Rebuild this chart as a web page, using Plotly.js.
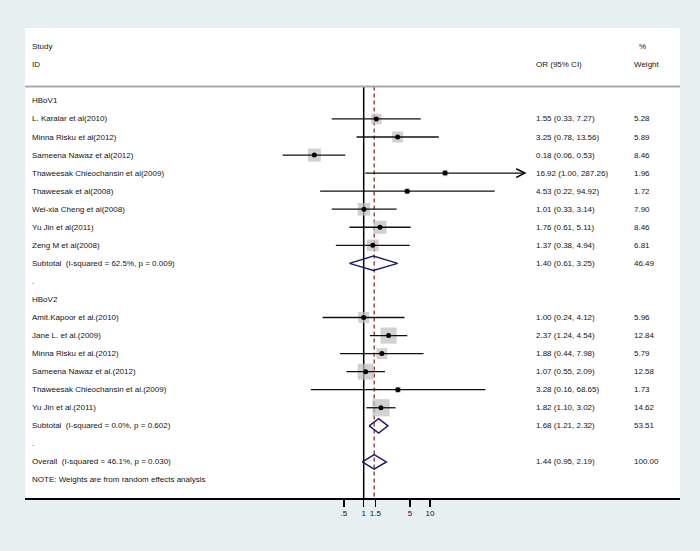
<!DOCTYPE html>
<html>
<head>
<meta charset="utf-8">
<script src="https://cdn.plot.ly/plotly-3.0.1.min.js"></script>
<style>
html,body{margin:0;padding:0;background:#e8eff1;}
#chart{width:700px;height:551px;}
</style>
</head>
<body>
<div id="chart"></div>
<script>
// ---------------- data ----------------
const group1Name = "HBoV1";
const group1Studies = ["L. Karalar et al(2010)", "Minna Risku et al(2012)", "Sameena Nawaz et al(2012)",
  "Thaweesak Chieochansin et al(2009)", "Thaweesak et al(2008)", "Wei-xia Cheng et al(2008)",
  "Yu Jin et al(2011)", "Zeng M et al(2008)"];
const group1OR = [1.55, 3.25, 0.18, 16.92, 4.53, 1.01, 1.76, 1.37];
const group1Lo = [0.33, 0.78, 0.06, 1.00, 0.22, 0.33, 0.61, 0.38];
const group1Hi = [7.27, 13.56, 0.53, 287.26, 94.92, 3.14, 5.11, 4.94];
const group1W  = [5.28, 5.89, 8.46, 1.96, 1.72, 7.90, 8.46, 6.81];
const group1Sub = {label: "Subtotal\u00a0\u00a0(I-squared = 62.5%, p = 0.009)", or: 1.40, lo: 0.61, hi: 3.25, w: 46.49};

const group2Name = "HBoV2";
const group2Studies = ["Amit.Kapoor et al.(2010)", "Jane L. et al.(2009)", "Minna Risku et al.(2012)",
  "Sameena Nawaz et al.(2012)", "Thaweesak Chieochansin et al.(2009)", "Yu Jin et al.(2011)"];
const group2OR = [1.00, 2.37, 1.88, 1.07, 3.28, 1.82];
const group2Lo = [0.24, 1.24, 0.44, 0.55, 0.16, 1.10];
const group2Hi = [4.12, 4.54, 7.98, 2.09, 68.65, 3.02];
const group2W  = [5.96, 12.84, 5.79, 12.58, 1.73, 14.62];
const group2Sub = {label: "Subtotal\u00a0\u00a0(I-squared = 0.0%, p = 0.602)", or: 1.68, lo: 1.21, hi: 2.32, w: 53.51};

const overall = {label: "Overall\u00a0\u00a0(I-squared = 46.1%, p = 0.030)", or: 1.44, lo: 0.95, hi: 2.19, w: 100.00};
const noteText = "NOTE: Weights are from random effects analysis";

const tickVals = [0.5, 1, 1.5, 5, 10];
const tickText = [".5", "1", "1.5", "5", "10"];

// ---------------- styling ----------------
const FONT = {family: 'Arial, "Liberation Sans", sans-serif', size: 8, color: '#141414'};
const xLabel = 0.0075, xOR = 0.7767, xW = 0.9268;
const arrowCut = 100;

// ---------------- build rows ----------------
let row = 0;
const studyRows = [], studyOR = [], studyLo = [], studyHi = [], studyW = [];
const diamonds = [];
const annotations = [];
function txt(x, y, t) {
  annotations.push({xref: 'paper', yref: 'y', x: x, y: y, text: t, showarrow: false,
    xanchor: 'left', yanchor: 'middle', font: FONT});
}
function addGroup(name, studies, ors, los, his, ws, sub) {
  txt(xLabel, row, name); row++;
  studies.forEach((s, i) => {
    txt(xLabel, row, s);
    txt(xOR, row, ors[i].toFixed(2) + " (" + los[i].toFixed(2) + ", " + his[i].toFixed(2) + ")");
    txt(xW, row, ws[i].toFixed(2));
    studyRows.push(row); studyOR.push(ors[i]); studyLo.push(los[i]); studyHi.push(his[i]); studyW.push(ws[i]);
    row++;
  });
  addSummary(sub);
  txt(xLabel, row, "."); row++;
}
function addSummary(s) {
  txt(xLabel, row, s.label);
  txt(xOR, row, s.or.toFixed(2) + " (" + s.lo.toFixed(2) + ", " + s.hi.toFixed(2) + ")");
  txt(xW, row, s.w.toFixed(2));
  diamonds.push({row: row, or: s.or, lo: s.lo, hi: s.hi});
  row++;
}
// header
txt(xLabel, -3, "Study"); txt(xLabel, -2, "ID");
txt(xOR, -2, "OR (95% CI)");
txt(xW + 0.008, -3, "%"); txt(xW, -2, "Weight");

addGroup(group1Name, group1Studies, group1OR, group1Lo, group1Hi, group1W, group1Sub);
addGroup(group2Name, group2Studies, group2OR, group2Lo, group2Hi, group2W, group2Sub);
addSummary(overall);
txt(xLabel, row, noteText);

// CI lines
const ciX = [], ciY = [];
studyRows.forEach((r, i) => {
  if (studyHi[i] > arrowCut) {
    annotations.push({xref: 'x', yref: 'y', axref: 'x', ayref: 'y',
      x: Math.log10(studyHi[i]), y: r, ax: Math.log10(studyLo[i]), ay: r,
      text: '', showarrow: true, arrowhead: 5, arrowsize: 1.3, arrowwidth: 1.3,
      arrowcolor: '#111', standoff: 0, startstandoff: 0});
  } else {
    ciX.push(studyLo[i], studyHi[i], null); ciY.push(r, r, null);
  }
});

// diamonds
const dX = [], dY = [];
const halfH = 0.4;
diamonds.forEach(d => {
  dX.push(d.lo, d.or, d.hi, d.or, d.lo, null);
  dY.push(d.row, d.row - halfH, d.row, d.row + halfH, d.row, null);
});

const yTop = -4.04, yBot = 22.0, sepY = -0.8;

const traces = [
  {x: [1, 1], y: [sepY, yBot], mode: 'lines', line: {color: '#000', width: 1.5}, hoverinfo: 'skip'},
  {x: [overall.or, overall.or], y: [sepY, yBot], mode: 'lines', line: {color: '#8b1a1a', width: 1.2, dash: '4px,3px'}, hoverinfo: 'skip'},
  {x: studyOR, y: studyRows, mode: 'markers', hoverinfo: 'skip',
   marker: {symbol: 'square', color: '#bdbdbd', size: studyW.map(w => 4.5 * Math.sqrt(w)), line: {width: 0}}},
  {x: ciX, y: ciY, mode: 'lines', line: {color: '#111', width: 1.3}, hoverinfo: 'skip'},
  {x: studyOR, y: studyRows, mode: 'markers', hoverinfo: 'skip',
   marker: {symbol: 'circle', color: '#000', size: 5, line: {width: 0}}},
  {x: dX, y: dY, mode: 'lines', line: {color: '#1c1c70', width: 1.5}, hoverinfo: 'skip'}
];

const layout = {
  width: 700, height: 551,
  margin: {l: 25, r: 20, t: 28, b: 53, pad: 0},
  paper_bgcolor: '#e8eff1', plot_bgcolor: '#ffffff',
  showlegend: false,
  xaxis: {type: 'log', range: [-5.109, 4.771], tickvals: tickVals, ticktext: tickText,
    showgrid: false, zeroline: false, showline: true, linecolor: '#000', linewidth: 1.5,
    ticks: 'outside', ticklen: 7, tickwidth: 1.5, tickcolor: '#000',
    tickfont: FONT, fixedrange: true},
  yaxis: {range: [yBot, yTop], showgrid: false, zeroline: false, showline: false,
    showticklabels: false, ticks: '', fixedrange: true},
  shapes: [
    {type: 'line', xref: 'paper', yref: 'y', x0: 0, x1: 1, y0: sepY, y1: sepY,
     line: {color: '#a9a9a9', width: 2}}
  ],
  annotations: annotations
};

Plotly.newPlot('chart', traces, layout, {displayModeBar: false, staticPlot: true});
</script>
</body>
</html>
